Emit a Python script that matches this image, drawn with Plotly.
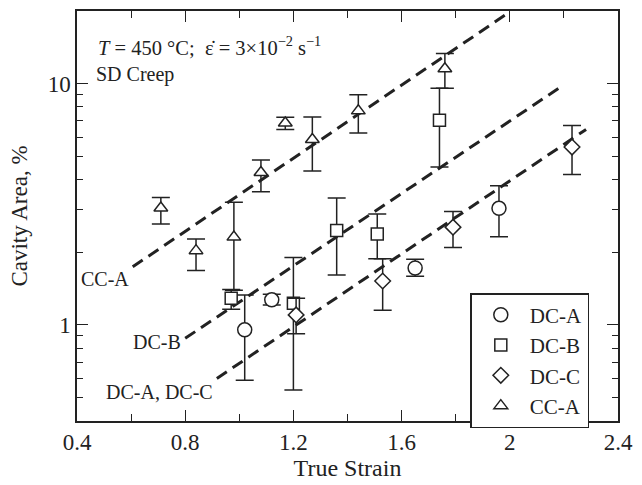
import math
import plotly.graph_objects as go

# ---- data ----
cca_x = [0.71, 0.84, 0.98, 1.08, 1.17, 1.27, 1.44, 1.76]
cca_y = [3.05, 2.03, 2.31, 4.28, 6.86, 5.86, 7.7, 11.5]
cca_hi = [3.37, 2.27, 3.22, 4.82, 7.25, 7.26, 8.98, 13.3]
cca_lo = [2.62, 1.68, 1.39, 3.56, 6.44, 4.34, 6.24, 9.56]

dcb_x = [0.97, 1.20, 1.36, 1.51, 1.74]
dcb_y = [1.29, 1.23, 2.46, 2.38, 7.04]
dcb_hi = [1.40, 1.90, 3.35, 2.88, 9.56]
dcb_lo = [1.16, 0.537, 1.61, 1.88, 4.51]

dca_x = [1.02, 1.12, 1.65, 1.96]
dca_y = [0.954, 1.27, 1.72, 3.04]
dca_hi = [1.33, 1.34, 1.87, 3.77]
dca_lo = [0.59, 1.21, 1.59, 2.32]

dcc_x = [1.21, 1.53, 1.79, 2.23]
dcc_y = [1.10, 1.52, 2.54, 5.45]
dcc_hi = [1.29, 1.88, 2.95, 6.70]
dcc_lo = [0.918, 1.15, 2.09, 4.20]

# fitted trend lines (end points)
fit_cca_x = [0.606, 1.983]
fit_cca_y = [1.74, 19.2]
fit_dcb_x = [0.80, 2.19]
fit_dcb_y = [0.88, 9.7]
fit_dcac_x = [0.917, 2.282]
fit_dcac_y = [0.60, 6.45]

fit_labels = ["CC-A", "DC-B", "DC-A, DC-C"]
fit_label_x = [0.600, 0.792, 0.910]
fit_label_y = [1.55, 0.85, 0.525]

x_tickvals = [0.4, 0.8, 1.2, 1.6, 2.0, 2.4]
x_ticktext = ["0.4", "0.8", "1.2", "1.6", "2", "2.4"]
y_tickvals = [1, 10]
y_ticktext = ["1", "10"]
y_minor = [0.5, 0.6, 0.7, 0.8, 0.9, 2, 3, 4, 5, 6, 7, 8, 9]

FONT = "Liberation Serif, Times New Roman, serif"
INK = "#222222"

fig = go.Figure()

for fx, fy in [(fit_cca_x, fit_cca_y), (fit_dcb_x, fit_dcb_y), (fit_dcac_x, fit_dcac_y)]:
    fig.add_trace(go.Scatter(x=fx, y=fy, mode="lines", showlegend=False,
                             line=dict(color=INK, width=3, dash="12px,7px"),
                             hoverinfo="skip"))

def series(name, xs, ys, hi, lo, symbol, size):
    fig.add_trace(go.Scatter(
        x=xs, y=ys, mode="markers", name=name,
        marker=dict(symbol=symbol, size=size, color="white",
                    line=dict(color=INK, width=1.5)),
        error_y=dict(type="data", symmetric=False,
                     array=[h - v for h, v in zip(hi, ys)],
                     arrayminus=[v - l for l, v in zip(lo, ys)],
                     color=INK, thickness=1.5, width=9),
    ))

series("DC-A", dca_x, dca_y, dca_hi, dca_lo, "circle", 14)
series("DC-B", dcb_x, dcb_y, dcb_hi, dcb_lo, "square", 12)
series("DC-C", dcc_x, dcc_y, dcc_hi, dcc_lo, "diamond", 12)
series("CC-A", cca_x, cca_y, cca_hi, cca_lo, "triangle-up", 12)

# line labels (log axis: annotation y given in log10 units)
for lx, ly, lt in zip(fit_label_x, fit_label_y, fit_labels):
    fig.add_annotation(x=lx, y=math.log10(ly), text=lt, showarrow=False,
                       xanchor="right", yanchor="middle",
                       font=dict(size=20, family=FONT, color=INK))

fig.add_annotation(xref="paper", yref="paper", x=0.036, y=0.915,
                   text="<i>T</i> = 450 °C;  ε̇ = 3×10<sup>−2</sup> s<sup>−1</sup>",
                   showarrow=False, xanchor="left", yanchor="middle",
                   font=dict(size=20.5, family=FONT, color=INK))
fig.add_annotation(xref="paper", yref="paper", x=0.031, y=0.845,
                   text="SD Creep", showarrow=False, xanchor="left", yanchor="middle",
                   font=dict(size=20, family=FONT, color=INK))

fig.update_layout(
    width=642, height=485,
    margin=dict(l=77, r=18, t=9, b=62),
    paper_bgcolor="white", plot_bgcolor="white",
    font=dict(family=FONT, size=22, color=INK),
    legend=dict(x=0.727, y=0.312, xanchor="left", yanchor="top",
                bordercolor=INK, borderwidth=1.5, bgcolor="white",
                font=dict(size=21, family=FONT, color=INK),
                itemwidth=48, tracegroupgap=0),
    xaxis=dict(range=[0.4, 2.4], tickvals=x_tickvals, ticktext=x_ticktext,
               ticks="inside", ticklen=11,
               tickwidth=1.2, tickcolor=INK, showline=True, linecolor=INK, linewidth=1.5,
               mirror="ticks", showgrid=False, zeroline=False,
               minor=dict(ticks="inside", dtick=0.2, tick0=0.4, ticklen=7, tickcolor=INK, showgrid=False),
               title=dict(text="True Strain", font=dict(size=24, family=FONT), standoff=4),
               tickfont=dict(size=23, family=FONT)),
    yaxis=dict(type="log", range=[-0.398, 1.30], tickvals=y_tickvals, ticktext=y_ticktext,
               ticks="inside", ticklen=11, tickwidth=1.2, tickcolor=INK,
               showline=True, linecolor=INK, linewidth=1.5, mirror="ticks",
               showgrid=False, zeroline=False,
               minor=dict(ticks="inside", tickvals=y_minor,
                          ticklen=6, tickcolor=INK, showgrid=False),
               title=dict(text="Cavity Area, %", font=dict(size=23, family=FONT), standoff=14),
               tickfont=dict(size=23, family=FONT)),
)

fig.write_html("out.html")
